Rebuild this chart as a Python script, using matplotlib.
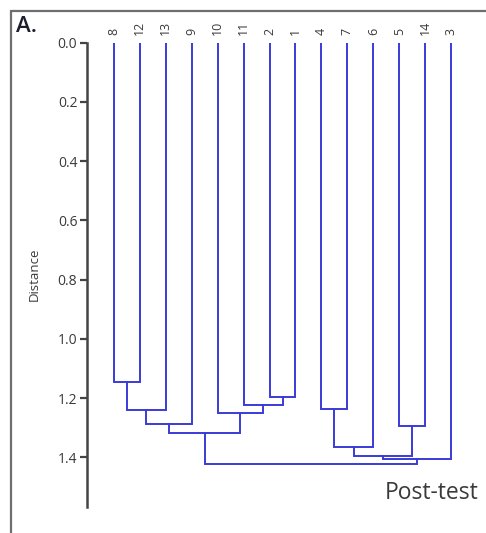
import matplotlib
matplotlib.use('Agg')
import matplotlib.pyplot as plt
from matplotlib.patches import Rectangle

# leaf labels in display order
leaf_labels = ['8', '12', '13', '9', '10', '11', '2', '1', '4', '7', '6', '5', '14', '3']

# merges: (left cluster, right cluster, distance); new clusters get ids 14, 15, ...
merge_left = [0, 14, 15, 6, 5, 4, 16, 8, 21, 11, 22, 24, 20]
merge_right = [1, 2, 3, 7, 17, 18, 19, 9, 10, 12, 23, 13, 25]
merge_dist = [1.147, 1.240, 1.288, 1.197, 1.223, 1.249, 1.316, 1.236, 1.363, 1.293, 1.394, 1.406, 1.423]

yticks = [0.0, 0.2, 0.4, 0.6, 0.8, 1.0, 1.2, 1.4]

line_col = '#3a3ad8'
txt_col = '#3a3a3a'

fig = plt.figure(figsize=(4.86, 5.33), dpi=100)
ax = fig.add_axes([87 / 486, 1 - 506.7 / 533, (477 - 87) / 486, (506.7 - 42.5) / 533])

# position/height of each cluster
xpos = {i: float(i) for i in range(len(leaf_labels))}
hgt = {i: 0.0 for i in range(len(leaf_labels))}
n = len(leaf_labels)
for k, (a, b, d) in enumerate(zip(merge_left, merge_right, merge_dist)):
    xa, xb = xpos[a], xpos[b]
    ax.plot([xa, xa, xb, xb], [hgt[a], d, d, hgt[b]], color=line_col, lw=1.4,
            solid_joinstyle='miter')
    xpos[n + k] = (xa + xb) / 2
    hgt[n + k] = d

ax.set_xlim(-1.04, 14)
ax.set_ylim(1.566, 0)
ax.set_yticks(yticks)
ax.set_yticklabels(['%.1f' % t for t in yticks], fontsize=10, color=txt_col, family='Open Sans')
ax.set_xticks([])
for s in ['top', 'right', 'bottom']:
    ax.spines[s].set_visible(False)
ax.spines['left'].set_color('#444444')
ax.spines['left'].set_linewidth(1.8)
ax.tick_params(axis='y', length=5, width=1.6, color='#444444', pad=2)
ax.set_ylabel('Distance', fontsize=9.5, color=txt_col, family='Open Sans', labelpad=12)

# leaf labels on top
for i, lab in enumerate(leaf_labels):
    ax.text(i, -0.025, lab, rotation=90, ha='center', va='bottom', fontsize=9,
            color=txt_col, family='Open Sans')

# outer frame and panel texts
fig.patches.append(Rectangle((11 / 486, -0.1), 1.2, 1 - 11 / 533 + 0.1, transform=fig.transFigure,
                             fill=False, edgecolor='#6e6e6e', lw=1.6))
fig.text(16 / 486, 1 - 27 / 533, 'A.', fontsize=16, color='#1e1e2e', family='Open Sans',
         weight='semibold', va='center', ha='left')
fig.text(478 / 486, 1 - 493 / 533, 'Post-test', fontsize=16.5, color=txt_col, family='Open Sans',
         va='center', ha='right')

fig.savefig('out.png', dpi=100)
